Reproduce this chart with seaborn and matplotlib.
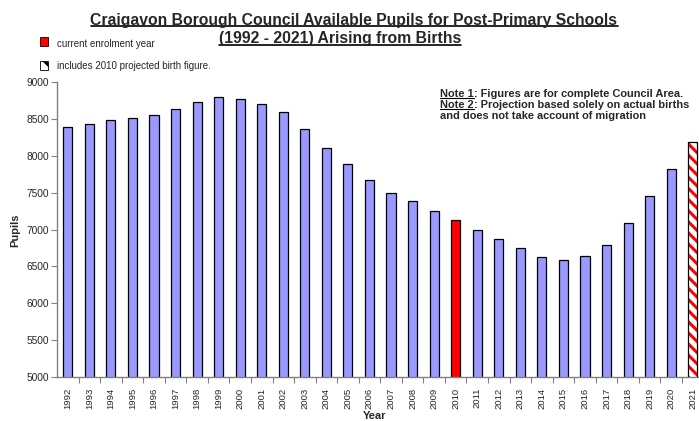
import matplotlib
matplotlib.use("Agg")
import matplotlib.pyplot as plt
import seaborn as sns
import pandas as pd
from matplotlib.lines import Line2D
from matplotlib.patches import Rectangle

# Chart data
years = [str(y) for y in range(1992, 2022)]
pupils = [8390, 8435, 8490, 8512, 8548, 8630, 8729, 8797, 8765, 8702,
          8590, 8363, 8101, 7888, 7671, 7498, 7386, 7250, 7128, 6997,
          6865, 6747, 6628, 6583, 6643, 6793, 7082, 7452, 7818, 8192]
current_year = "2010"
projected_year = "2021"

title_lines = ["Craigavon Borough Council Available Pupils for Post-Primary Schools",
               "(1992 - 2021) Arising from Births"]
legend_texts = ["current enrolment year", "includes 2010 projected birth figure."]

df = pd.DataFrame({"Year": years, "Pupils": pupils})

sns.set_style("white")
plt.rcParams["font.family"] = ["Liberation Sans", "DejaVu Sans"]
plt.rcParams["hatch.linewidth"] = 2.2
plt.rcParams["hatch.color"] = "red"

BLUE = "#9999FF"
colors = {y: BLUE for y in years}
colors[current_year] = "#FF0000"
colors[projected_year] = "white"

fig = plt.figure(figsize=(6.99, 4.21), dpi=100)
ax = fig.add_axes([57 / 699, 44 / 421, 646.5 / 699, 295 / 421])

sns.barplot(data=df, x="Year", y="Pupils", hue="Year", palette=colors,
            legend=False, width=0.42, edgecolor="black", linewidth=0.9,
            saturation=1, ax=ax)

# hatched projected bar
idx = years.index(projected_year)
bar = ax.patches[idx]
bar.set_hatch("\\\\\\")
bar.set_edgecolor("red")
bar.set_linewidth(0)
ax.add_patch(Rectangle((bar.get_x(), bar.get_y()), bar.get_width(), bar.get_height(),
                       facecolor="none", edgecolor="black", linewidth=0.9))

ax.set_ylim(5000, 9000)
ax.set_xlim(-0.5, len(years) - 0.5)
ax.set_yticks(range(5000, 9001, 500))
ax.tick_params(axis="y", labelsize=7.3, length=4, width=0.8, color="#808080",
               direction="out", left=True, pad=2)
ax.tick_params(axis="x", which="major", labelsize=6.8, length=0, rotation=90, pad=8)
ax.set_xticks([i + 0.5 for i in range(len(years) - 1)], minor=True)
ax.tick_params(axis="x", which="minor", length=4, width=0.8, color="#808080",
               direction="out", bottom=True)
for s in ["top", "right"]:
    ax.spines[s].set_visible(False)
for s in ["left", "bottom"]:
    ax.spines[s].set_color("#808080")
    ax.spines[s].set_linewidth(1)

ax.set_ylabel("")
ax.set_xlabel("")
fig.text(15 / 699, 1 - 230 / 421, "Pupils", fontsize=8, fontweight="bold",
         rotation=90, ha="center", va="center")
fig.text(375 / 699, 1 - 416 / 421, "Year", fontsize=8, fontweight="bold",
         ha="center", va="center")

# title lines
t1 = fig.text(354 / 699, 1 - 20 / 421, title_lines[0], ha="center", va="center",
              fontsize=11.3, fontweight="bold")
t2 = fig.text(340 / 699, 1 - 39 / 421, title_lines[1], ha="center", va="center",
              fontsize=11.3, fontweight="bold")

# legend-like notes on the top left
fig.patches.append(Rectangle((40 / 699, 1 - 46 / 421), 8 / 699, 9 / 421,
                             transform=fig.transFigure, facecolor="red",
                             edgecolor="black", linewidth=0.6))
fig.text(57 / 699, 1 - 44 / 421, legend_texts[0], fontsize=7, va="center")
fig.patches.append(Rectangle((40 / 699, 1 - 70 / 421), 8 / 699, 9 / 421,
                             transform=fig.transFigure, facecolor="white",
                             edgecolor="black", linewidth=0.6, hatch="\\\\"))
fig.text(57 / 699, 1 - 66 / 421, legend_texts[1], fontsize=7, va="center")

# notes on the right
NFS = 7.9
n1 = fig.text(440 / 699, 1 - 94 / 421, "Note 1", fontsize=NFS, fontweight="bold", va="center")
c1 = fig.text(0, 0, ": Figures are for complete Council Area.", fontsize=NFS,
              fontweight="bold", va="center")
n2 = fig.text(440 / 699, 1 - 105 / 421, "Note 2", fontsize=NFS, fontweight="bold", va="center")
c2 = fig.text(0, 0, ": Projection based solely on actual births", fontsize=NFS,
              fontweight="bold", va="center")
fig.text(440 / 699, 1 - 116 / 421, "and does not take account of migration", fontsize=NFS,
         fontweight="bold", va="center")

fig.canvas.draw()
r = fig.canvas.get_renderer()
# place note continuations right after underlined part
for lead, cont in [(n1, c1), (n2, c2)]:
    bb = lead.get_window_extent(r).transformed(fig.transFigure.inverted())
    cont.set_position((bb.x1, lead.get_position()[1]))


def underline(t, lw, off):
    bb = t.get_window_extent(r).transformed(fig.transFigure.inverted())
    y = bb.y0 + off / 421
    fig.add_artist(Line2D([bb.x0, bb.x1], [y, y], transform=fig.transFigure,
                          color="black", linewidth=lw))


underline(t1, 1.2, 1.5)
underline(t2, 1.2, 1.5)
underline(n1, 0.8, 1.2)
underline(n2, 0.8, 1.2)

fig.savefig("out.png", dpi=100)
